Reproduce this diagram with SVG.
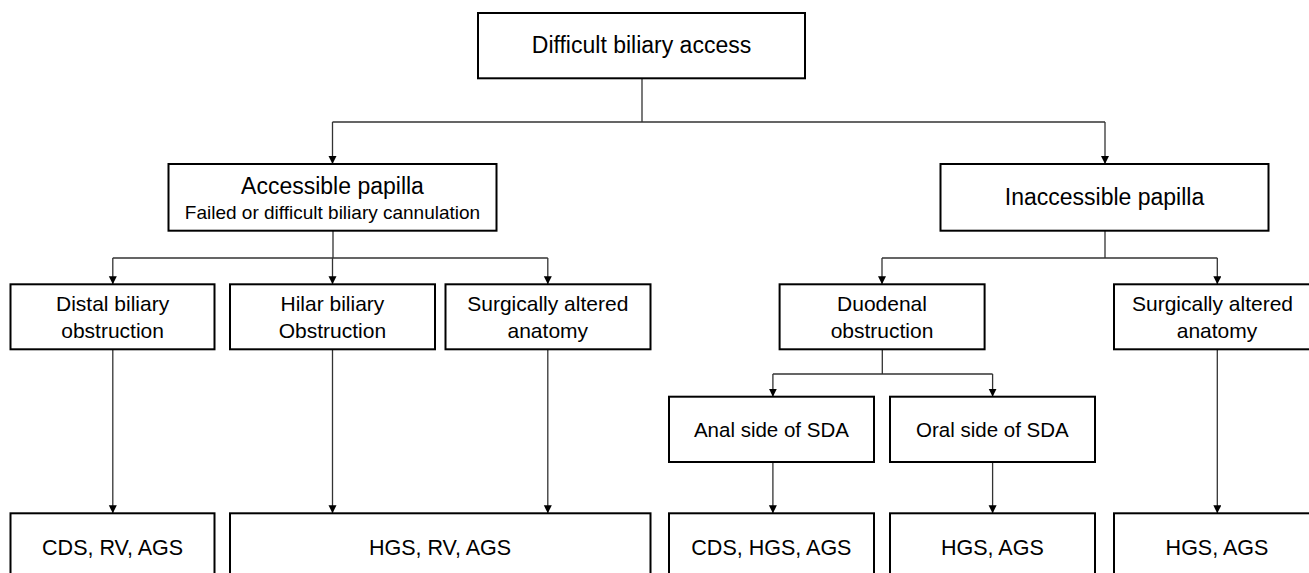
<svg xmlns="http://www.w3.org/2000/svg" width="1309" height="573" viewBox="0 0 1309 573">
<style>
.box{fill:#fff;stroke:#000;stroke-width:2}
.ln{fill:none;stroke:#333;stroke-width:1.3}
.t{font-family:"Liberation Sans",Arial,sans-serif;fill:#000;text-anchor:middle}
.big{font-size:23px}
.sub{font-size:19px}
.mid{font-size:21px}
.sm{font-size:20.5px}
.bot{font-size:21.5px}
</style>
<defs>
<marker id="arr" markerUnits="userSpaceOnUse" markerWidth="9" markerHeight="9" refX="8" refY="4" orient="auto">
<path d="M0,0 L8,4 L0,8 z" fill="#000"/>
</marker>
</defs>
<rect width="1309" height="573" fill="#fff"/>
<g id="connectors">
<path class="ln" d="M642,78.3 V122 M332.5,122 H1105"/>
<path class="ln" d="M332.5,122 V164" marker-end="url(#arr)"/>
<path class="ln" d="M1105,122 V164" marker-end="url(#arr)"/>
<path class="ln" d="M333,230.7 V258 M112.8,258 H547.8"/>
<path class="ln" d="M112.8,258 V284.3" marker-end="url(#arr)"/>
<path class="ln" d="M332.5,258 V284.3" marker-end="url(#arr)"/>
<path class="ln" d="M547.8,258 V284.3" marker-end="url(#arr)"/>
<path class="ln" d="M1105,230.7 V258 M882,258 H1217.3"/>
<path class="ln" d="M882,258 V284.3" marker-end="url(#arr)"/>
<path class="ln" d="M1217.3,258 V284.3" marker-end="url(#arr)"/>
<path class="ln" d="M112.8,349.3 V513.3" marker-end="url(#arr)"/>
<path class="ln" d="M332.5,349.3 V513.3" marker-end="url(#arr)"/>
<path class="ln" d="M547.8,349.3 V513.3" marker-end="url(#arr)"/>
<path class="ln" d="M882.3,349.3 V374 M772.9,374 H992.6"/>
<path class="ln" d="M772.9,374 V396.7" marker-end="url(#arr)"/>
<path class="ln" d="M992.6,374 V396.7" marker-end="url(#arr)"/>
<path class="ln" d="M772.9,462 V513.3" marker-end="url(#arr)"/>
<path class="ln" d="M992.6,462 V513.3" marker-end="url(#arr)"/>
<path class="ln" d="M1217.3,349.3 V513.3" marker-end="url(#arr)"/>
</g>
<g id="n-root"><rect class="box" x="478" y="13" width="327" height="65.3"/><text class="t big" x="641.5" y="52.7">Difficult biliary access</text></g>
<g id="n-accessible"><rect class="box" x="168.5" y="164" width="328" height="66.7"/><text class="t big" x="332.5" y="194">Accessible papilla</text><text class="t sub" x="332.5" y="219.3">Failed or difficult biliary cannulation</text></g>
<g id="n-inaccessible"><rect class="box" x="940.5" y="164" width="328" height="66.7"/><text class="t big" x="1104.5" y="204.7">Inaccessible papilla</text></g>
<g id="n-distal"><rect class="box" x="10.5" y="284.3" width="204" height="65"/><text class="t mid" x="112.6" y="310.7">Distal biliary</text><text class="t mid" x="112.6" y="338.3">obstruction</text></g>
<g id="n-hilar"><rect class="box" x="230" y="284.3" width="205" height="65"/><text class="t mid" x="332.4" y="310.7">Hilar biliary</text><text class="t mid" x="332.4" y="338.3">Obstruction</text></g>
<g id="n-surg1"><rect class="box" x="445.5" y="284.3" width="205" height="65"/><text class="t mid" x="547.8" y="310.7">Surgically altered</text><text class="t mid" x="547.8" y="338.3">anatomy</text></g>
<g id="n-duodenal"><rect class="box" x="779.6" y="284.3" width="205" height="65"/><text class="t mid" x="882" y="310.7">Duodenal</text><text class="t mid" x="882" y="338.3">obstruction</text></g>
<g id="n-surg2"><rect class="box" x="1114" y="284.3" width="207" height="65"/><text class="t mid" x="1212.5" y="310.7">Surgically altered</text><text class="t mid" x="1217" y="338.3">anatomy</text></g>
<g id="n-anal"><rect class="box" x="669" y="396.7" width="205" height="65.3"/><text class="t sm" x="771.4" y="436.7">Anal side of SDA</text></g>
<g id="n-oral"><rect class="box" x="890" y="396.7" width="205" height="65.3"/><text class="t sm" x="992.4" y="436.7">Oral side of SDA</text></g>
<g id="n-r1"><rect class="box" x="10.5" y="513.3" width="204" height="80"/><text class="t bot" x="112.6" y="555">CDS, RV, AGS</text></g>
<g id="n-r2"><rect class="box" x="230" y="513.3" width="420.5" height="80"/><text class="t bot" x="440" y="555">HGS, RV, AGS</text></g>
<g id="n-r3"><rect class="box" x="669" y="513.3" width="205" height="80"/><text class="t bot" x="771.4" y="555">CDS, HGS, AGS</text></g>
<g id="n-r4"><rect class="box" x="890" y="513.3" width="205" height="80"/><text class="t bot" x="992.4" y="555">HGS, AGS</text></g>
<g id="n-r5"><rect class="box" x="1114" y="513.3" width="207" height="80"/><text class="t bot" x="1217" y="555">HGS, AGS</text></g>
</svg>
